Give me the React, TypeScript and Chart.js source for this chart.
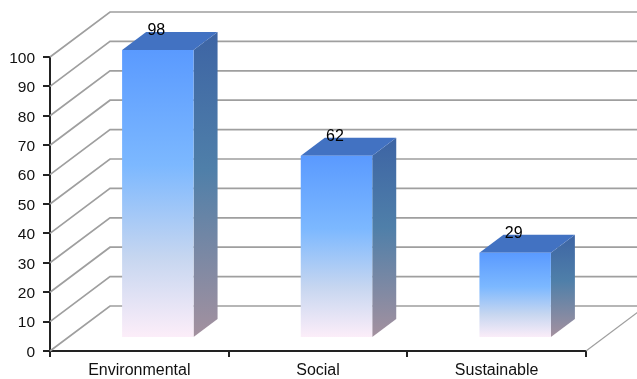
import React, { useEffect, useRef } from "react";
import { Chart, registerables } from "chart.js";

Chart.register(...registerables);

const categories = ["Environmental", "Social", "Sustainable"];
const scores = [98, 62, 29];
const tickStep = 10;
const axisMax = 100;

// Pseudo-3D projection: wall depth, bar plane offset and bar depth, in pixels.
const WALL = { dx: 60, dy: -45 };
const BAR_SHIFT = { dx: 18.5, dy: -13 };
const BAR_DEPTH = { dx: 24, dy: -18 };
const FONT = "Liberation Sans, Arial, sans-serif";

const frontFill = (context: any) => {
  const y = context.chart.scales.y;
  const top = y ? y.getPixelForValue(scores[context.dataIndex]) : NaN;
  const bottom = y ? y.getPixelForValue(0) : NaN;
  // The scale has no pixel range until the first layout has run.
  if (!Number.isFinite(top) || !Number.isFinite(bottom)) return "#7cb8ff";
  const g = context.chart.ctx.createLinearGradient(0, top, 0, bottom);
  g.addColorStop(0, "#5a9aff");
  g.addColorStop(0.4, "#7cb8ff");
  g.addColorStop(0.72, "#c6d6f0");
  g.addColorStop(1, "#fdeef9");
  return g;
};

const wallAndFloor = {
  id: "wallAndFloor",
  beforeDatasetsDraw(chart: any) {
    const { ctx, scales } = chart;
    const { x, y } = scales;
    const right = chart.width;
    ctx.save();
    ctx.strokeStyle = "#9f9f9f";
    ctx.lineWidth = 1.7;
    for (let v = 0; v <= axisMax; v += tickStep) {
      const py = y.getPixelForValue(v);
      ctx.beginPath();
      ctx.moveTo(x.left, py);
      ctx.lineTo(x.left + WALL.dx, py + WALL.dy);
      ctx.lineTo(right, py + WALL.dy);
      ctx.stroke();
    }
    ctx.lineWidth = 1.2;
    ctx.beginPath();
    ctx.moveTo(x.right, y.bottom);
    ctx.lineTo(x.right + WALL.dx, y.bottom + WALL.dy);
    ctx.stroke();
    ctx.restore();
  },
};

const prismBars = {
  id: "prismBars",
  beforeDatasetDraw(chart: any, args: any) {
    const { ctx } = chart;
    ctx.save();
    ctx.translate(BAR_SHIFT.dx, BAR_SHIFT.dy);
    args.meta.data.forEach((bar: any) => {
      const l = bar.x - bar.width / 2;
      const r = bar.x + bar.width / 2;
      const t = bar.y;
      const b = bar.base;
      const side = ctx.createLinearGradient(0, t + BAR_DEPTH.dy, 0, b);
      side.addColorStop(0, "#3d64a4");
      side.addColorStop(0.45, "#4f7fa9");
      side.addColorStop(1, "#a4919f");
      ctx.fillStyle = side;
      ctx.beginPath();
      ctx.moveTo(r, t);
      ctx.lineTo(r + BAR_DEPTH.dx, t + BAR_DEPTH.dy);
      ctx.lineTo(r + BAR_DEPTH.dx, b + BAR_DEPTH.dy);
      ctx.lineTo(r, b);
      ctx.closePath();
      ctx.fill();
      ctx.fillStyle = "#4272c2";
      ctx.beginPath();
      ctx.moveTo(l, t);
      ctx.lineTo(l + BAR_DEPTH.dx, t + BAR_DEPTH.dy);
      ctx.lineTo(r + BAR_DEPTH.dx, t + BAR_DEPTH.dy);
      ctx.lineTo(r, t);
      ctx.closePath();
      ctx.fill();
    });
  },
  afterDatasetDraw(chart: any) {
    chart.ctx.restore();
  },
  afterDatasetsDraw(chart: any) {
    const { ctx } = chart;
    const meta = chart.getDatasetMeta(0);
    ctx.save();
    ctx.fillStyle = "#000";
    ctx.font = `16px ${FONT}`;
    ctx.textAlign = "center";
    ctx.textBaseline = "middle";
    meta.data.forEach((bar: any, i: number) => {
      ctx.fillText(String(scores[i]), bar.x + BAR_SHIFT.dx - 1.5, bar.y + BAR_SHIFT.dy - 19);
    });
    ctx.restore();
  },
};

export default function App() {
  const ref = useRef<HTMLCanvasElement | null>(null);

  useEffect(() => {
    document.body.style.margin = "0";
    const chart = new Chart(ref.current as HTMLCanvasElement, {
      type: "bar",
      data: {
        labels: categories,
        datasets: [
          {
            data: scores,
            backgroundColor: frontFill,
            borderWidth: 0,
            categoryPercentage: 1,
            barPercentage: 0.4,
            clip: false,
          },
        ],
      },
      options: {
        responsive: false,
        animation: false,
        layout: { padding: { top: 57, right: 51, bottom: 0, left: 0 } },
        plugins: { legend: { display: false }, tooltip: { enabled: false } },
        scales: {
          x: {
            afterFit: (s: any) => {
              s.height = 28;
            },
            border: { color: "#222", width: 2 },
            grid: {
              drawOnChartArea: false,
              color: "#222",
              lineWidth: 2,
              tickLength: 6,
              offset: true,
            },
            ticks: { color: "#111", font: { family: FONT, size: 16 }, padding: 4, maxRotation: 0 },
          },
          y: {
            min: 0,
            max: axisMax,
            afterFit: (s: any) => {
              s.width = 50;
            },
            border: { color: "#222", width: 2 },
            grid: { drawOnChartArea: false, color: "#222", lineWidth: 2, tickLength: 7 },
            ticks: { stepSize: tickStep, color: "#111", font: { family: FONT, size: 15.5 }, padding: 8, labelOffset: 1.5 },
          },
        },
      },
      plugins: [wallAndFloor, prismBars],
    } as any);
    return () => chart.destroy();
  }, []);

  return <canvas ref={ref} width={637} height={379} style={{ display: "block" }} />;
}
